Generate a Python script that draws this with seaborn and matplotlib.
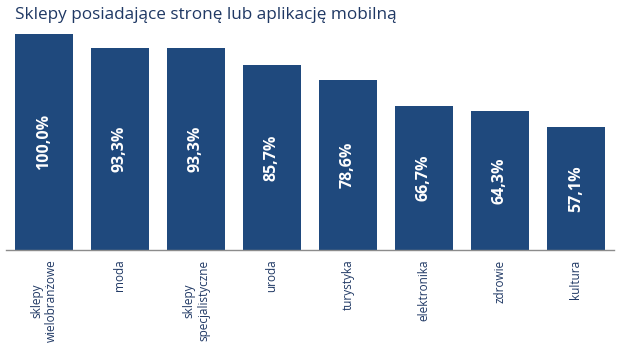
import matplotlib
matplotlib.use("Agg")
import matplotlib.pyplot as plt
import seaborn as sns
import pandas as pd

categories = ["sklepy\nwielobranżowe", "moda", "sklepy\nspecjalistyczne", "uroda",
              "turystyka", "elektronika", "zdrowie", "kultura"]
values = [100.0, 93.3, 93.3, 85.7, 78.6, 66.7, 64.3, 57.1]
value_labels = ["100,0%", "93,3%", "93,3%", "85,7%", "78,6%", "66,7%", "64,3%", "57,1%"]

BAR = "#1F497D"
TXT = "#1F3864"

sns.set_theme(style="white")
plt.rcParams["font.family"] = ["Open Sans", "DejaVu Sans"]

df = pd.DataFrame({"cat": categories, "val": values})

fig = plt.figure(figsize=(6.19, 3.58), dpi=100)
ax = fig.add_axes([6 / 619, 108 / 358, 608 / 619, 216 / 358])
sns.barplot(data=df, x="cat", y="val", color=BAR, saturation=1, width=0.76,
            edgecolor="none", ax=ax)

ax.set_ylim(0, 100)
ax.set_xlim(-0.5, len(categories) - 0.5)
ax.set_xlabel("")
ax.set_ylabel("")
ax.set_yticks([])
for s in ["top", "right", "left"]:
    ax.spines[s].set_visible(False)
ax.spines["bottom"].set_color("#8C8C8C")
ax.spines["bottom"].set_linewidth(1.0)
ax.tick_params(axis="x", length=0, pad=7)
ax.set_xticks(range(len(categories)))
ax.set_xticklabels(categories, rotation=90, color=TXT, fontsize=8.5,
                   va="top", ha="center", multialignment="center")

for i, (v, lab) in enumerate(zip(values, value_labels)):
    ax.text(i, v / 2, lab, rotation=90, ha="center", va="center",
            color="white", fontsize=11.5, fontweight="bold")

fig.text(15 / 619, 1 - 15 / 358, "Sklepy posiadające stronę lub aplikację mobilną",
         ha="left", va="center", color=TXT, fontsize=12.3)

fig.savefig("out.png", dpi=100)
